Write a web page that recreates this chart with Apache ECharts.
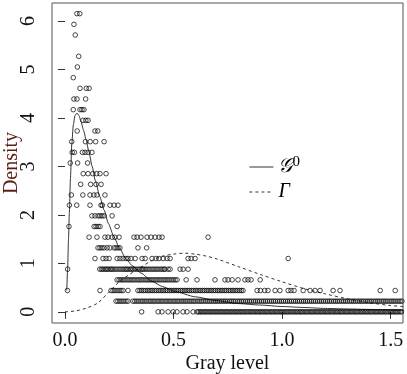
<!DOCTYPE html>
<html><head><meta charset="utf-8">
<script src="https://cdn.jsdelivr.net/npm/echarts@6/dist/echarts.min.js"></script>
<style>html,body{margin:0;padding:0;background:#fff}#c{width:407px;height:374px}</style>
</head><body><div id="c"></div>
<script>
// ---- tick labels ----
const xTicks = [0, 0.5, 1.0, 1.5];
const xTickLabels = ["0.0", "0.5", "1.0", "1.5"];
const yTicks = [0, 1, 2, 3, 4, 5, 6];
const yTickLabels = ["0", "1", "2", "3", "4", "5", "6"];

// ---- observed densities: one y level per row, x positions of the circles ----
const levelY = [0, 0.22, 0.44, 0.66, 0.88, 1.10, 1.32, 1.54, 1.76, 1.98, 2.20, 2.41, 2.63, 2.85, 3.07, 3.29, 3.51, 3.73, 3.95, 4.17, 4.39, 4.61, 4.83, 5.05, 5.27, 5.71, 5.93, 6.15];
const levelX = [
  // 0
  [0.353, 0.429, 0.447, 0.475, 0.498, 0.516, 0.544, 0.562, 0.59, 0.608, 0.615, 0.623, 0.63, 0.638, 0.646, 0.653, 0.661, 0.669, 0.676, 0.684, 0.692, 0.699, 0.707, 0.715, 0.722, 0.73, 0.738, 0.745, 0.753, 0.761, 0.768, 0.776, 0.784, 0.791, 0.799, 0.807, 0.814, 0.822, 0.83, 0.837, 0.845, 0.853, 0.86, 0.868, 0.876, 0.883, 0.891, 0.899, 0.906, 0.914, 0.922, 0.929, 0.937, 0.945, 0.952, 0.96, 0.968, 0.975, 0.983, 0.991, 0.998, 1.006, 1.014, 1.021, 1.029, 1.037, 1.044, 1.052, 1.06, 1.067, 1.075, 1.083, 1.09, 1.098, 1.106, 1.113, 1.121, 1.129, 1.136, 1.144, 1.152, 1.159, 1.167, 1.175, 1.182, 1.19, 1.198, 1.205, 1.213, 1.221, 1.228, 1.236, 1.244, 1.251, 1.259, 1.267, 1.274, 1.282, 1.29, 1.297, 1.305, 1.313, 1.32, 1.328, 1.336, 1.343, 1.351, 1.359, 1.366, 1.374, 1.382, 1.389, 1.397, 1.405, 1.412, 1.42, 1.428, 1.435, 1.443, 1.451, 1.458, 1.466, 1.474, 1.481, 1.489, 1.497, 1.504, 1.512, 1.52, 1.527, 1.535, 1.543, 1.55, 1.558],
  // 1
  [0.235, 0.244, 0.253, 0.262, 0.271, 0.281, 0.29, 0.313, 0.322, 0.331, 0.34, 0.35, 0.359, 0.368, 0.377, 0.387, 0.396, 0.405, 0.414, 0.424, 0.433, 0.442, 0.451, 0.461, 0.47, 0.479, 0.488, 0.498, 0.507, 0.516, 0.525, 0.535, 0.544, 0.553, 0.562, 0.572, 0.581, 0.59, 0.599, 0.609, 0.618, 0.627, 0.636, 0.646, 0.655, 0.664, 0.673, 0.683, 0.692, 0.701, 0.71, 0.72, 0.729, 0.738, 0.747, 0.757, 0.766, 0.775, 0.784, 0.794, 0.803, 0.812, 0.821, 0.831, 0.84, 0.849, 0.858, 0.868, 0.877, 0.886, 0.895, 0.905, 0.914, 0.923, 0.932, 0.942, 0.951, 0.96, 0.969, 0.979, 0.988, 0.997, 1.006, 1.016, 1.025, 1.034, 1.043, 1.053, 1.062, 1.071, 1.08, 1.09, 1.099, 1.108, 1.117, 1.127, 1.136, 1.145, 1.154, 1.164, 1.173, 1.182, 1.191, 1.201, 1.21, 1.219, 1.228, 1.238, 1.247, 1.256, 1.265, 1.275, 1.284, 1.293, 1.302, 1.312, 1.321, 1.33, 1.339, 1.349, 1.358, 1.367, 1.376, 1.386, 1.395, 1.404, 1.413, 1.423, 1.432, 1.441, 1.45, 1.46, 1.469, 1.478, 1.487, 1.497, 1.506, 1.515, 1.524, 1.534, 1.543, 1.552, 1.561],
  // 2
  [0.011, 0.161, 0.212, 0.221, 0.23, 0.24, 0.249, 0.258, 0.267, 0.29, 0.336, 0.345, 0.353, 0.362, 0.37, 0.379, 0.387, 0.396, 0.404, 0.413, 0.421, 0.43, 0.438, 0.447, 0.455, 0.464, 0.472, 0.481, 0.489, 0.498, 0.506, 0.515, 0.523, 0.532, 0.54, 0.549, 0.557, 0.566, 0.574, 0.583, 0.591, 0.6, 0.608, 0.617, 0.625, 0.634, 0.642, 0.651, 0.659, 0.668, 0.676, 0.685, 0.693, 0.702, 0.71, 0.719, 0.727, 0.736, 0.744, 0.753, 0.761, 0.77, 0.778, 0.787, 0.795, 0.804, 0.812, 0.82, 0.885, 0.9, 0.92, 0.935, 0.968, 0.99, 1.028, 1.041, 1.055, 1.097, 1.129, 1.152, 1.175, 1.235, 1.267, 1.452, 1.521],
  // 3
  [0.24, 0.249, 0.258, 0.267, 0.276, 0.286, 0.295, 0.304, 0.313, 0.322, 0.332, 0.341, 0.35, 0.359, 0.369, 0.378, 0.387, 0.396, 0.405, 0.415, 0.424, 0.433, 0.442, 0.452, 0.461, 0.47, 0.479, 0.489, 0.498, 0.507, 0.516, 0.558, 0.608, 0.691, 0.737, 0.751, 0.77, 0.797, 0.829, 0.843, 0.857, 0.899],
  // 4
  [0.012, 0.16, 0.168, 0.175, 0.184, 0.191, 0.198, 0.207, 0.214, 0.221, 0.23, 0.239, 0.249, 0.258, 0.267, 0.276, 0.283, 0.29, 0.299, 0.306, 0.313, 0.322, 0.332, 0.341, 0.35, 0.357, 0.364, 0.373, 0.382, 0.391, 0.401, 0.41, 0.419, 0.428, 0.438, 0.447, 0.456, 0.461, 0.475, 0.484, 0.53, 0.544, 0.567],
  // 5
  [0.138, 0.175, 0.189, 0.203, 0.24, 0.253, 0.267, 0.281, 0.29, 0.304, 0.323, 0.355, 0.369, 0.401, 0.419, 0.433, 0.452, 0.47, 0.484, 0.567, 0.581, 0.599, 1.028],
  // 6
  [0.152, 0.161, 0.17, 0.18, 0.194, 0.207, 0.226, 0.235, 0.244, 0.253, 0.336, 0.376],
  // 7
  [0.111, 0.147, 0.184, 0.198, 0.217, 0.23, 0.249, 0.318, 0.332, 0.35, 0.378, 0.396, 0.415, 0.433, 0.447, 0.659],
  // 8
  [0.018, 0.134, 0.143, 0.152, 0.161, 0.24],
  // 9
  [0.124, 0.138, 0.152, 0.161, 0.17, 0.18, 0.217],
  // 10
  [0.02, 0.054, 0.115, 0.166, 0.172, 0.207, 0.226, 0.244],
  // 11
  [0.029, 0.082, 0.115, 0.133, 0.147, 0.184],
  // 12
  [0.072, 0.118, 0.143, 0.166],
  // 13
  [0.084, 0.106, 0.128, 0.146, 0.161, 0.189],
  // 14
  [0.024, 0.058, 0.104],
  // 15
  [0.033, 0.043, 0.08, 0.092, 0.106, 0.124],
  // 16
  [0.031, 0.094, 0.116, 0.141, 0.18],
  // 17
  [0.056, 0.138, 0.151],
  // 18
  [0.083, 0.096, 0.106],
  // 19
  [0.038, 0.069, 0.078, 0.087],
  // 20
  [0.041, 0.055, 0.095],
  // 21
  [0.069, 0.098, 0.111],
  // 22
  [0.038],
  // 23
  [0.057],
  // 24
  [0.063],
  // 26
  [0.047],
  // 27
  [0.041],
  // 28
  [0.055, 0.068]
];

// ---- fitted densities ----
const g0X = [0.008, 0.012, 0.016, 0.02, 0.025, 0.031, 0.038, 0.046, 0.055, 0.064, 0.074, 0.085, 0.097, 0.11, 0.125, 0.14, 0.16, 0.18, 0.2, 0.225, 0.25, 0.28, 0.31, 0.35, 0.4, 0.45, 0.5, 0.6, 0.7, 0.8, 0.9, 1.0, 1.1, 1.2, 1.3, 1.4, 1.5, 1.56];
const g0Y = [0.44, 0.88, 1.5, 2.05, 2.75, 3.45, 3.85, 4.05, 4.1, 4.05, 3.92, 3.75, 3.55, 3.3, 3.0, 2.7, 2.38, 2.1, 1.82, 1.55, 1.32, 1.1, 0.95, 0.8, 0.63, 0.52, 0.43, 0.31, 0.23, 0.17, 0.14, 0.11, 0.09, 0.07, 0.06, 0.05, 0.04, 0.035];
const gamX = [0, 0.05, 0.1, 0.15, 0.2, 0.25, 0.3, 0.35, 0.4, 0.45, 0.5, 0.55, 0.6, 0.65, 0.7, 0.8, 0.9, 1.0, 1.1, 1.2, 1.3, 1.4, 1.5, 1.56];
const gamY = [0, 0.02, 0.08, 0.18, 0.4, 0.62, 0.78, 0.92, 1.06, 1.15, 1.19, 1.21, 1.19, 1.15, 1.09, 0.93, 0.77, 0.62, 0.48, 0.37, 0.27, 0.19, 0.13, 0.11];

const seriesNames = ["G0", "Gamma"];

const pts = [];
levelY.forEach((y, i) => levelX[i].forEach(x => pts.push([x, y])));
const g0 = g0X.map((x, i) => [x, g0Y[i]]);
const gam = gamX.map((x, i) => [x, gamY[i]]);

const FONT = "'Liberation Serif', 'DejaVu Serif', serif";
const chart = echarts.init(document.getElementById('c'), null, {renderer: 'canvas'});
chart.setOption({
  animation: false,
  backgroundColor: '#fff',
  grid: {left: 52, right: 4, top: 3, bottom: 51, show: true, borderColor: '#555', borderWidth: 1,
    containLabel: false, outerBoundsMode: 'none'},
  legend: {
    orient: 'vertical', left: 244, top: 150, itemWidth: 24, itemHeight: 12, itemGap: 5,
    data: seriesNames,
    itemStyle: {opacity: 0},
    lineStyle: {width: 0.8},
    textStyle: {fontFamily: FONT, fontSize: 20, color: '#000',
      rich: {
        g: {fontFamily: FONT, fontSize: 20, fontStyle: 'italic', color: '#000'},
        s: {fontFamily: FONT, fontSize: 15, color: '#000', padding: [0, 0, 9, 0]},
        i: {fontFamily: FONT, fontSize: 20, fontStyle: 'italic', color: '#000'}
      }},
    formatter: n => n === 'G0' ? '{g|𝒢}{s|0}' : '{i|Γ}'
  },
  xAxis: {
    type: 'value', min: -0.06, max: 1.557,
    name: 'Gray level', nameLocation: 'middle', nameGap: 31, nameMoveOverlap: false,
    nameTextStyle: {fontFamily: FONT, fontSize: 20, color: '#111'},
    axisLine: {show: false},
    axisTick: {show: true, length: 7, lineStyle: {color: '#333', width: 1}, customValues: xTicks},
    axisLabel: {customValues: xTicks, margin: 8, fontFamily: FONT, fontSize: 20, color: '#111',
      formatter: v => xTickLabels[xTicks.indexOf(v)] ?? ''},
    splitLine: {show: false}
  },
  yAxis: {
    type: 'value', min: -0.23, max: 6.37,
    name: 'Density', nameLocation: 'middle', nameGap: 30, nameRotate: 90, nameMoveOverlap: false,
    nameTextStyle: {fontFamily: FONT, fontSize: 20, color: '#5a1d14'},
    axisLine: {show: false},
    axisTick: {show: true, length: 7, lineStyle: {color: '#333', width: 1}, customValues: yTicks},
    axisLabel: {customValues: yTicks, rotate: 90, margin: 13, fontFamily: FONT, fontSize: 20, color: '#111',
      formatter: v => yTickLabels[yTicks.indexOf(v)] ?? ''},
    splitLine: {show: false}
  },
  series: [
    {type: 'scatter', name: 'obs', data: pts, symbol: 'circle', symbolSize: 4.6,
      itemStyle: {color: 'rgba(0,0,0,0)', borderColor: '#000', borderWidth: 0.9}, silent: true, z: 2},
    {type: 'line', name: 'G0', data: g0, symbol: 'none', smooth: 0.2, smoothMonotone: 'x', color: '#000',
      itemStyle: {color: '#000'},
      lineStyle: {color: '#000', width: 0.8, type: 'solid'}, z: 3},
    {type: 'line', name: 'Gamma', data: gam, symbol: 'none', smooth: 0.3, color: '#000',
      itemStyle: {color: '#000'},
      lineStyle: {color: '#000', width: 0.8, type: [3, 3]}, z: 3}
  ]
});
</script></body></html>
